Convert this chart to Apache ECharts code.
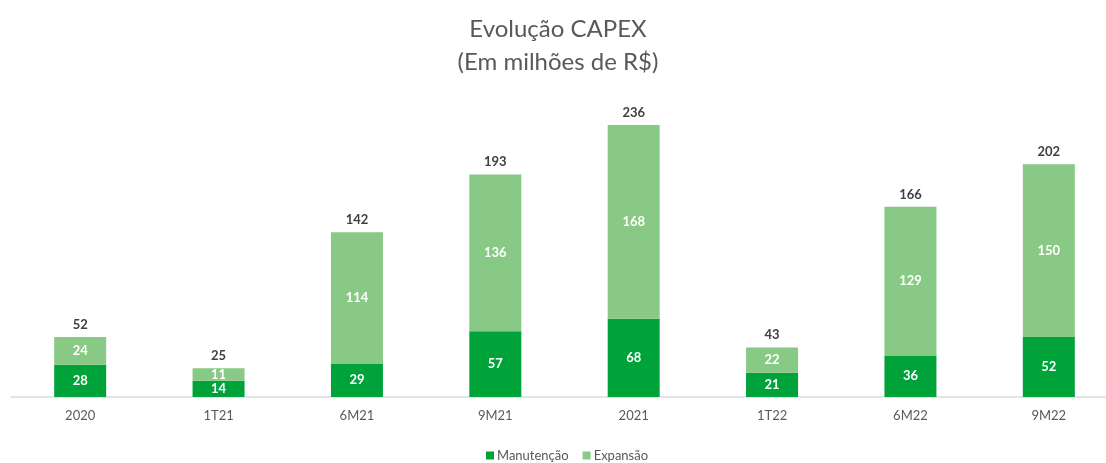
<!DOCTYPE html>
<html lang="pt">
<head>
    <meta charset="UTF-8">
    <title>Evolução CAPEX</title>
    <script src="https://cdn.jsdelivr.net/npm/echarts@6/dist/echarts.min.js"></script>
    <style>
        body { margin: 0; padding: 0; background: #fff; overflow: hidden; }
        /* a little wider than the window so the last category slot can run past the edge */
        #chart { width: 1118px; height: 463px; }
    </style>
</head>
<body>
    <div id="chart"></div>
    <script>
        var categories = ['2020', '1T21', '6M21', '9M21', '2021', '1T22', '6M22', '9M22'];
        var manutencao = [28, 14, 29, 57, 68, 21, 36, 52];
        var expansao = [24, 11, 114, 136, 168, 22, 129, 150];
        var totais = [52, 25, 142, 193, 236, 43, 166, 202];

        var chart = echarts.init(document.getElementById('chart'));

        var innerLabel = {
            show: true,
            position: 'inside',
            color: '#fff',
            fontSize: 13,
            fontWeight: 'bold',
            fontFamily: 'Lato'
        };

        var option = {
            animation: false,
            textStyle: { fontFamily: 'Lato' },
            title: {
                text: 'Evolução CAPEX\n(Em milhões de R$)',
                left: 553,
                textAlign: 'center',
                top: 8,
                textStyle: {
                    fontSize: 24,
                    fontWeight: 'normal',
                    color: '#595959',
                    lineHeight: 33,
                    fontFamily: 'Lato'
                }
            },
            legend: {
                data: ['Manutenção', 'Expansão'],
                bottom: -4,
                left: 481,
                itemWidth: 8,
                itemHeight: 8,
                itemGap: 14,
                icon: 'rect',
                textStyle: { color: '#595959', fontSize: 13, padding: [0, 0, 0, -2] }
            },
            grid: { left: 11, right: 0, top: 125, bottom: 66 },
            xAxis: {
                type: 'category',
                data: categories,
                axisLine: { lineStyle: { color: '#d9dde0', width: 1.5 } },
                axisTick: { show: false },
                axisLabel: { color: '#595959', fontSize: 13, margin: 12 }
            },
            yAxis: {
                type: 'value',
                min: 0,
                max: 236,
                show: false
            },
            series: [
                {
                    name: 'Manutenção',
                    type: 'bar',
                    stack: 'capex',
                    barWidth: 52,
                    itemStyle: { color: '#00a23a' },
                    label: innerLabel,
                    data: manutencao
                },
                {
                    name: 'Expansão',
                    type: 'bar',
                    stack: 'capex',
                    itemStyle: { color: '#88c985' },
                    label: innerLabel,
                    data: expansao
                },
                {
                    name: 'Total',
                    type: 'bar',
                    stack: 'capex',
                    itemStyle: { color: 'transparent' },
                    label: {
                        show: true,
                        position: 'top',
                        distance: 6,
                        color: '#404040',
                        fontSize: 13,
                        fontWeight: 'bold',
                        formatter: function (p) { return totais[p.dataIndex]; }
                    },
                    data: totais.map(function () { return 0; })
                }
            ]
        };

        chart.setOption(option);
    </script>
</body>
</html>
